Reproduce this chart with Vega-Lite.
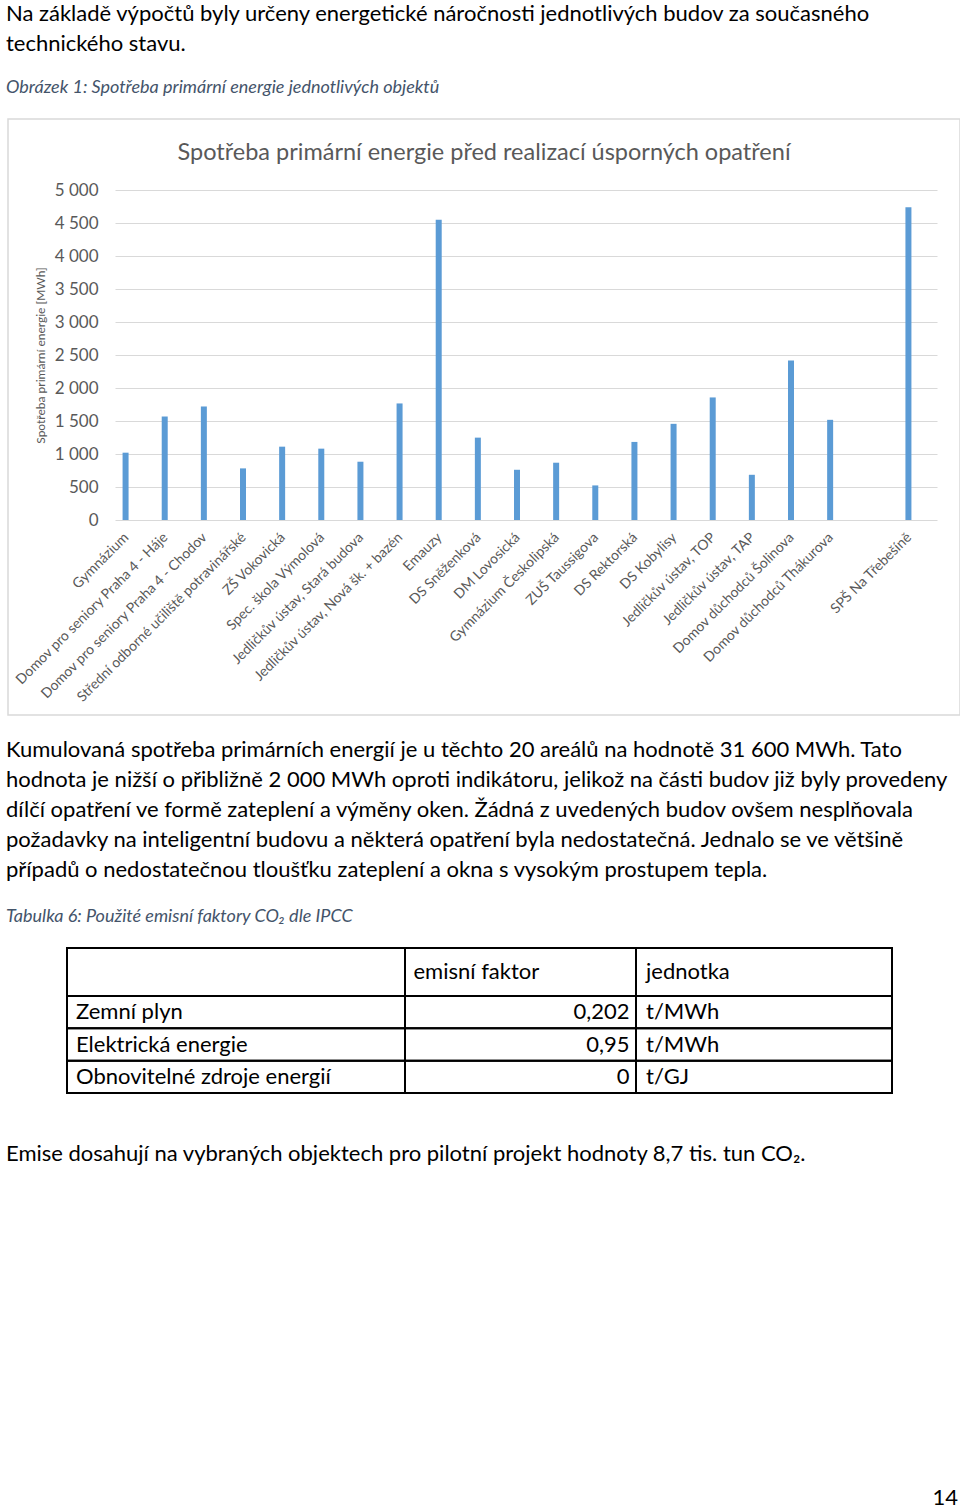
{
  "$schema": "https://vega.github.io/schema/vega-lite/v6.json",
  "background": "white",
  "padding": {"left": 6, "top": 2, "right": 0, "bottom": 0},
  "config": {"font": "Lato", "view": {"stroke": null}, "concat": {"spacing": 0}},
  "datasets": {
    "objekty": [
      {"objekt": "Gymnázium", "spotreba": 1020},
      {"objekt": "Domov pro seniory Praha 4 - Háje", "spotreba": 1568},
      {"objekt": "Domov pro seniory Praha 4 - Chodov", "spotreba": 1720},
      {"objekt": "Střední odborné učiliště potravinářské", "spotreba": 782},
      {"objekt": "ZŠ Vokovická", "spotreba": 1111},
      {"objekt": "Spec. škola Výmolová", "spotreba": 1081},
      {"objekt": "Jedličkův ústav, Stará budova", "spotreba": 883},
      {"objekt": "Jedličkův ústav, Nová šk. + bazén", "spotreba": 1766},
      {"objekt": "Emauzy", "spotreba": 4551},
      {"objekt": "DS Sněženková", "spotreba": 1248},
      {"objekt": "DM Lovosická", "spotreba": 761},
      {"objekt": "Gymnázium Českolipská", "spotreba": 868},
      {"objekt": "ZUŠ Taussigova", "spotreba": 524},
      {"objekt": "DS Rektorská", "spotreba": 1183},
      {"objekt": "DS Kobylisy", "spotreba": 1457},
      {"objekt": "Jedličkův ústav, TOP", "spotreba": 1857},
      {"objekt": "Jedličkův ústav, TAP", "spotreba": 685},
      {"objekt": "Domov důchodců Šolinova", "spotreba": 2416},
      {"objekt": "Domov důchodců Thákurova", "spotreba": 1518},
      {"objekt": "SPŠ Na Třebešíně", "spotreba": 4740}
    ],
    "tabulka": [
      {"zdroj": "Zemní plyn", "faktor": "0,202", "jednotka": "t/MWh"},
      {"zdroj": "Elektrická energie", "faktor": "0,95", "jednotka": "t/MWh"},
      {"zdroj": "Obnovitelné zdroje energií", "faktor": "0", "jednotka": "t/GJ"}
    ]
  },
  "spacing": 0,
  "vconcat": [
    {
      "width": 952, "height": 1,
      "data": {"values": [{}]},
      "mark": {"type": "text"},
      "title": {
        "text": ["Na základě výpočtů byly určeny energetické náročnosti jednotlivých budov za současného", "technického stavu."],
        "subtitle": "Obrázek 1: Spotřeba primární energie jednotlivých objektů",
        "anchor": "start", "frame": "group", "fontSize": 22, "fontWeight": "normal", "color": "black",
        "lineHeight": 30, "subtitleFontSize": 18, "subtitleFontStyle": "italic", "subtitleColor": "#44546a",
        "subtitlePadding": 23, "offset": 9, "dx": -2
      }
    },
    {
      "width": 952, "height": 596,
      "view": {"stroke": "#d9d9d9", "strokeWidth": 1.5},
      "data": {"name": "objekty"},
      "title": {
        "text": "Spotřeba primární energie před realizací úsporných opatření",
        "anchor": "middle", "frame": "group", "fontSize": 23.5, "fontWeight": "normal", "color": "#595959", "offset": -45
      },
      "mark": {"type": "bar", "width": 6, "xOffset": -9, "color": "#5b9bd5"},
      "encoding": {
        "x": {
          "field": "objekt", "type": "nominal", "sort": null,
          "scale": {
            "domain": ["Gymnázium", "Domov pro seniory Praha 4 - Háje", "Domov pro seniory Praha 4 - Chodov", "Střední odborné učiliště potravinářské", "ZŠ Vokovická", "Spec. škola Výmolová", "Jedličkův ústav, Stará budova", "Jedličkův ústav, Nová šk. + bazén", "Emauzy", "DS Sněženková", "DM Lovosická", "Gymnázium Českolipská", "ZUŠ Taussigova", "DS Rektorská", "DS Kobylisy", "Jedličkův ústav, TOP", "Jedličkův ústav, TAP", "Domov důchodců Šolinova", "Domov důchodců Thákurova", "", "SPŠ Na Třebešíně"],
            "range": [107, 929], "paddingInner": 0, "paddingOuter": 0
          },
          "axis": {
            "title": null, "labelAngle": -45, "labelOffset": -13, "labelPadding": 10, "domain": false, "ticks": false,
            "tickSize": 0, "grid": false, "labelFontSize": 14, "labelColor": "#595959", "offset": -195, "labelLimit": 400
          }
        },
        "y": {
          "field": "spotreba", "type": "quantitative",
          "scale": {"domain": [0, 5000], "range": [401, 71], "nice": false, "zero": true},
          "axis": {
            "offset": -107, "values": [0, 500, 1000, 1500, 2000, 2500, 3000, 3500, 4000, 4500, 5000],
            "grid": true, "gridColor": "#d9d9d9", "gridWidth": 1, "domain": false, "ticks": false, "tickSize": 0,
            "labelPadding": 17, "labelFontSize": 17, "labelColor": "#595959",
            "labelExpr": "replace(format(datum.value, ','), ',', ' ')",
            "title": "Spotřeba primární energie [MWh]", "titleFontSize": 12, "titleColor": "#595959",
            "titleFontWeight": "normal", "titlePadding": 7
          }
        }
      }
    },
    {"width": 952, "height": 22, "data": {"values": [{}]}, "mark": {"type": "text"}},
    {
      "width": 952, "height": 1,
      "data": {"values": [{}]},
      "mark": {"type": "text"},
      "title": {
        "text": [
          "Kumulovaná spotřeba primárních energií je u těchto 20 areálů na hodnotě 31 600 MWh. Tato",
          "hodnota je nižší o přibližně 2 000 MWh oproti indikátoru, jelikož na části budov již byly provedeny",
          "dílčí opatření ve formě zateplení a výměny oken. Žádná z uvedených budov ovšem nesplňovala",
          "požadavky na inteligentní budovu a některá opatření byla nedostatečná. Jednalo se ve většině",
          "případů o nedostatečnou tloušťku zateplení a okna s vysokým prostupem tepla."
        ],
        "subtitle": "Tabulka 6: Použité emisní faktory CO₂ dle IPCC",
        "anchor": "start", "frame": "group", "fontSize": 22, "fontWeight": "normal", "color": "black",
        "lineHeight": 30, "subtitleFontSize": 18, "subtitleFontStyle": "italic", "subtitleColor": "#44546a",
        "subtitlePadding": 26, "offset": 9, "dx": -2
      }
    },
    {
      "spacing": 0,
      "bounds": "flush",
      "hconcat": [
        {"width": 59, "height": 145, "data": {"values": [{}]}, "mark": {"type": "text"}},
        {
          "columns": 3, "spacing": 0, "bounds": "flush",
          "concat": [
            {"width": 338, "height": 48, "view": {"stroke": "black", "strokeWidth": 2},
             "data": {"values": [{"t": ""}]}, "mark": {"type": "text", "fontSize": 22, "color": "black"},
             "encoding": {"text": {"field": "t"}}},
            {"width": 231, "height": 48, "view": {"stroke": "black", "strokeWidth": 2},
             "data": {"values": [{"t": "emisní faktor"}]}, "mark": {"type": "text", "fontSize": 22, "color": "black", "align": "left", "dx": -107},
             "encoding": {"text": {"field": "t"}}},
            {"width": 256, "height": 48, "view": {"stroke": "black", "strokeWidth": 2},
             "data": {"values": [{"t": "jednotka"}]}, "mark": {"type": "text", "fontSize": 22, "color": "black", "align": "left", "dx": -118},
             "encoding": {"text": {"field": "t"}}},
            {"width": 338, "height": 97, "view": {"stroke": "black", "strokeWidth": 2},
             "data": {"name": "tabulka"},
             "encoding": {"y": {"field": "zdroj", "type": "nominal", "sort": null, "axis": null, "scale": {"paddingInner": 0, "paddingOuter": 0}}},
             "layer": [
               {"mark": {"type": "rect", "fillOpacity": 0, "stroke": "black", "strokeWidth": 2}},
               {"mark": {"type": "text", "fontSize": 22, "color": "black", "align": "left", "dx": -160}, "encoding": {"text": {"field": "zdroj"}}}
             ]},
            {"width": 231, "height": 97, "view": {"stroke": "black", "strokeWidth": 2},
             "data": {"name": "tabulka"},
             "encoding": {"y": {"field": "zdroj", "type": "nominal", "sort": null, "axis": null, "scale": {"paddingInner": 0, "paddingOuter": 0}}},
             "layer": [
               {"mark": {"type": "rect", "fillOpacity": 0, "stroke": "black", "strokeWidth": 2}},
               {"mark": {"type": "text", "fontSize": 22, "color": "black", "align": "right", "dx": 109}, "encoding": {"text": {"field": "faktor"}}}
             ]},
            {"width": 256, "height": 97, "view": {"stroke": "black", "strokeWidth": 2},
             "data": {"name": "tabulka"},
             "encoding": {"y": {"field": "zdroj", "type": "nominal", "sort": null, "axis": null, "scale": {"paddingInner": 0, "paddingOuter": 0}}},
             "layer": [
               {"mark": {"type": "rect", "fillOpacity": 0, "stroke": "black", "strokeWidth": 2}},
               {"mark": {"type": "text", "fontSize": 22, "color": "black", "align": "left", "dx": -118}, "encoding": {"text": {"field": "jednotka"}}}
             ]}
          ]
        }
      ]
    },
    {"width": 952, "height": 47, "data": {"values": [{}]}, "mark": {"type": "text"}},
    {
      "width": 952, "height": 1,
      "data": {"values": [{}]},
      "mark": {"type": "text"},
      "title": {
        "text": "Emise dosahují na vybraných objektech pro pilotní projekt hodnoty 8,7 tis. tun CO₂.",
        "anchor": "start", "frame": "group", "fontSize": 22, "fontWeight": "normal", "color": "black", "offset": 0, "dx": -2
      }
    },
    {"width": 952, "height": 309, "data": {"values": [{}]}, "mark": {"type": "text"}},
    {
      "width": 952, "height": 1,
      "data": {"values": [{}]},
      "mark": {"type": "text"},
      "title": {
        "text": "14", "anchor": "end", "frame": "group", "fontSize": 22, "fontWeight": "normal", "color": "black", "offset": 0, "dx": -2
      }
    }
  ]
}
